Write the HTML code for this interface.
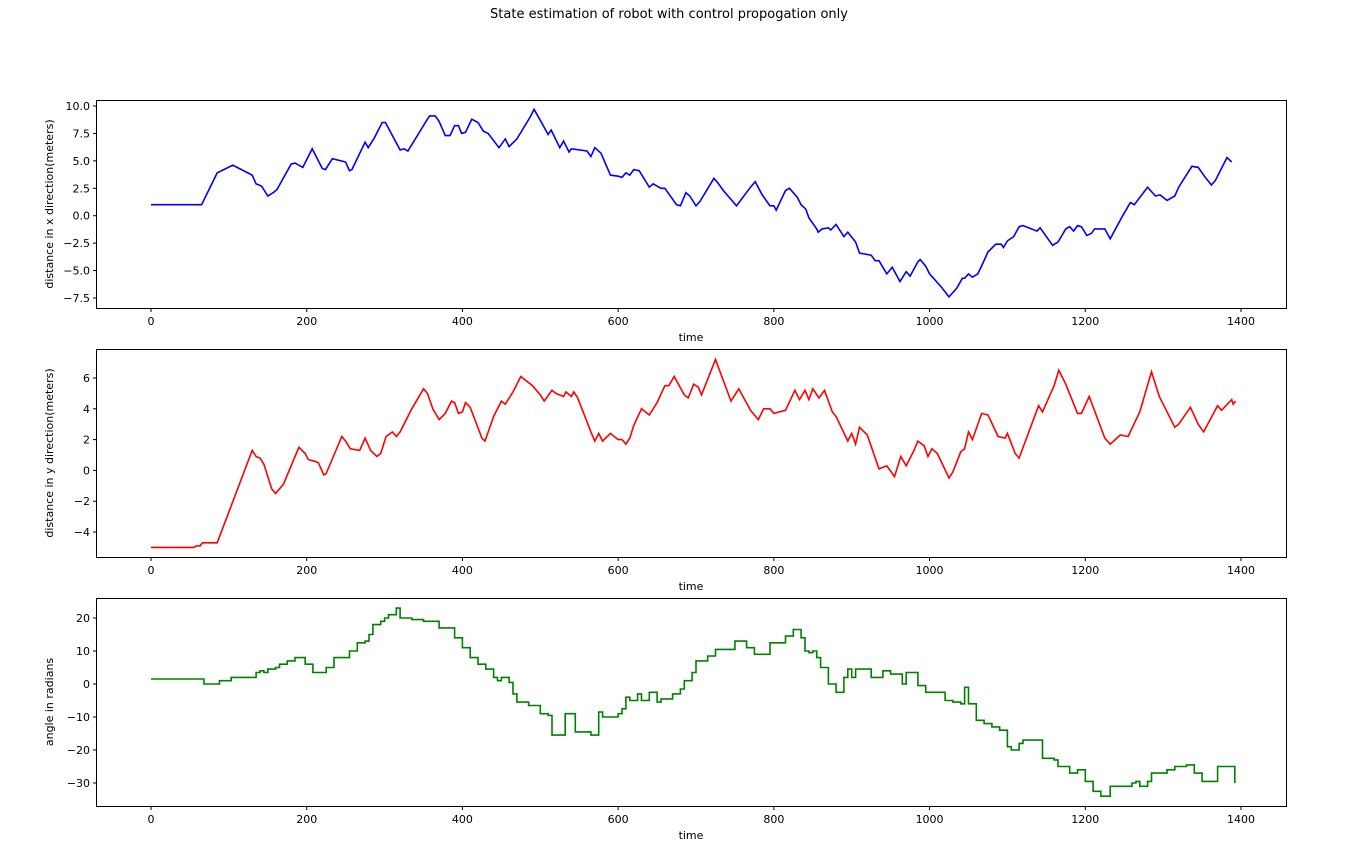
<!DOCTYPE html>
<html><head><meta charset="utf-8"><style>
body{margin:0;background:#fff;font-family:"Liberation Sans","DejaVu Sans",sans-serif}
svg text{font-family:"DejaVu Sans","Liberation Sans",sans-serif;font-size:11px;fill:#000}
</style></head><body>
<svg id="c" width="1353" height="862">
<text x="669" y="18" text-anchor="middle" style="font-size:13px">State estimation of robot with control propogation only</text>
</svg>
<script>
const xTicks=[0,200,400,600,800,1000,1200,1400];
const ticksX=[-7.5,-5.0,-2.5,0.0,2.5,5.0,7.5,10.0];
const ticksY=[-4,-2,0,2,4,6];
const ticksA=[-30,-20,-10,0,10,20];
const tX=[0,65,85,105,130,135,142,150,157,162,180,185,195,207,220,224,233,250,255,258,275,279,287,297,301,320,325,330,355,358,365,370,378,384,390,395,399,404,412,420,427,433,447,455,460,470,487,492,500,510,514,525,530,537,540,560,565,570,578,590,600,605,610,615,620,627,640,645,655,660,675,680,687,692,700,705,723,728,735,752,770,776,785,795,800,803,815,820,830,835,841,845,855,857,862,870,873,880,890,895,905,910,925,930,935,945,952,962,970,975,985,988,995,1000,1015,1025,1035,1042,1045,1050,1055,1062,1068,1075,1085,1092,1095,1100,1108,1115,1120,1138,1142,1158,1165,1175,1180,1185,1190,1195,1202,1208,1212,1225,1232,1248,1258,1263,1280,1290,1296,1305,1315,1320,1327,1337,1345,1353,1362,1367,1382,1388];
const vX=[1,1,3.9,4.6,3.7,2.9,2.7,1.8,2.1,2.4,4.7,4.8,4.4,6.1,4.3,4.2,5.2,4.9,4.1,4.2,6.7,6.2,7.1,8.5,8.5,6.0,6.1,5.9,8.8,9.1,9.1,8.6,7.3,7.3,8.2,8.2,7.5,7.6,8.8,8.5,7.7,7.5,6.2,7.0,6.3,7.0,9.0,9.7,8.7,7.4,7.8,6.2,6.8,5.8,6.1,5.9,5.4,6.2,5.7,3.7,3.6,3.5,3.9,3.7,4.2,4.1,2.6,2.9,2.5,2.5,1.0,0.9,2.1,1.8,0.9,1.3,3.4,3.0,2.3,0.9,2.6,3.1,1.9,0.9,0.9,0.5,2.3,2.5,1.7,1.0,0.6,-0.2,-1.2,-1.5,-1.2,-1.1,-1.3,-0.8,-1.9,-1.5,-2.4,-3.4,-3.6,-4.1,-4.1,-5.3,-4.7,-6.0,-5.1,-5.5,-4.2,-4.0,-4.6,-5.3,-6.5,-7.4,-6.6,-5.7,-5.7,-5.3,-5.6,-5.3,-4.4,-3.3,-2.6,-2.6,-2.9,-2.3,-1.9,-1.0,-0.9,-1.4,-1.1,-2.7,-2.4,-1.2,-1.0,-1.4,-0.9,-1.0,-1.8,-1.6,-1.2,-1.2,-2.1,0.0,1.2,1.0,2.6,1.8,1.9,1.4,1.8,2.6,3.4,4.5,4.4,3.6,2.8,3.2,5.3,4.9];
const tY=[0,55,58,63,66,85,130,135,140,145,155,160,170,190,198,202,210,215,222,225,245,250,256,268,275,282,290,295,302,310,315,320,335,350,355,362,370,378,386,390,395,400,404,410,425,429,440,450,455,465,475,490,500,505,515,520,530,533,540,543,548,565,570,575,580,590,600,605,610,615,620,630,640,650,660,665,672,685,690,697,703,707,725,745,755,770,780,787,795,800,815,827,833,840,845,850,858,865,875,880,895,900,905,910,920,935,945,955,963,970,980,985,993,998,1003,1010,1025,1030,1040,1045,1050,1055,1067,1075,1088,1097,1100,1110,1115,1140,1145,1160,1166,1175,1190,1195,1205,1225,1232,1245,1255,1270,1285,1295,1315,1320,1335,1345,1352,1370,1375,1388,1390,1393];
const vY=[-5,-5,-4.9,-4.9,-4.7,-4.7,1.3,0.9,0.8,0.4,-1.2,-1.5,-0.9,1.5,1.1,0.7,0.6,0.5,-0.3,-0.2,2.2,1.9,1.4,1.3,2.1,1.3,0.9,1.1,2.2,2.5,2.2,2.5,4.0,5.3,5.0,4.0,3.3,3.7,4.5,4.4,3.7,3.8,4.4,4.1,2.1,1.9,3.5,4.5,4.3,5.1,6.1,5.5,4.9,4.5,5.2,5.0,4.8,5.1,4.8,5.1,4.7,2.5,1.9,2.4,1.9,2.4,2.0,2.0,1.7,2.1,2.9,4.0,3.6,4.4,5.5,5.5,6.1,4.9,4.7,5.6,5.4,4.9,7.2,4.5,5.3,3.9,3.3,4.0,4.0,3.7,3.9,5.2,4.6,5.2,4.6,5.3,4.7,5.2,3.8,3.5,1.9,2.4,1.7,2.8,2.3,0.1,0.3,-0.4,0.9,0.3,1.3,1.9,1.6,0.9,1.4,1.1,-0.5,-0.1,1.2,1.4,2.5,2.0,3.7,3.6,2.2,2.1,2.4,1.1,0.8,4.2,3.8,5.5,6.5,5.6,3.7,3.7,4.8,2.1,1.7,2.3,2.2,3.8,6.4,4.8,2.8,3.0,4.1,3.0,2.5,4.2,3.9,4.6,4.3,4.5];
const tA=[0,65,68,85,88,100,103,130,135,140,145,150,160,165,175,185,195,198,205,208,218,225,235,250,255,265,275,280,285,295,300,305,315,320,330,335,350,370,390,400,410,420,430,440,445,450,460,465,470,480,485,495,500,510,515,525,532,538,545,560,565,575,580,600,605,610,615,625,630,640,650,655,670,680,685,695,700,715,725,745,750,760,765,775,790,795,810,815,825,835,840,845,850,855,860,865,870,880,890,895,900,905,920,925,935,940,950,960,965,970,980,985,995,1000,1010,1020,1030,1040,1045,1050,1060,1070,1080,1090,1100,1105,1115,1120,1140,1145,1160,1165,1180,1190,1200,1210,1220,1228,1232,1250,1260,1265,1270,1280,1285,1295,1305,1315,1330,1340,1350,1365,1370,1388,1392];
const vA=[1.5,1.5,0,0,1,1,2,2,3.5,4,3.5,4.5,5,6,7,8,8,6,6,3.5,3.5,5,8,8,10,12.5,13,15,18,19,20,21,23,20,20,19.5,19,17,14,11,8,6,4.5,2,1,2,0.5,-3,-5.5,-5.5,-6.5,-6.5,-9,-9.5,-15.5,-15.5,-9,-9,-14.5,-14.5,-15.5,-8.5,-10,-9,-7.5,-4,-5,-3,-5,-2.5,-5.5,-4.5,-3,-1.5,1,3.5,7,8.5,10.5,10.5,13,13,11,9,9,12.5,12.5,14.5,16.5,14,10,9.5,10,8,5,5,0,-2.5,2,4.5,2,4.5,4.5,2,2,4,3,3,0,3.5,3.5,-0.5,-2.5,-2.5,-2.5,-5,-5.5,-6,-1,-6,-11,-12,-13,-14,-19,-20,-18,-17,-17,-22.5,-23,-25,-27,-26,-29.5,-32.5,-34,-34,-31,-31,-30,-29.5,-31,-29.5,-27,-27,-26,-25,-24.5,-27,-29.5,-29.5,-25,-25,-30];
const svg=document.getElementById('c');const NS='http://www.w3.org/2000/svg';
function el(t,a,txt){const e=document.createElementNS(NS,t);for(const k in a)e.setAttribute(k,a[k]);if(txt!==undefined)e.textContent=txt;svg.appendChild(e);return e;}
const xs=t=>151+t*(1090/1400);
function panel(name,top,v0,p0,v1,p1,yt,fmt,ts,vs,color,ylabel,step){
 const ys=v=>p0+(v-v0)*(p1-p0)/(v1-v0);
 const bottom=top+208;
 let pts=[];
 ts.forEach((t,i)=>{
  if(step&&i>0)pts.push(xs(t).toFixed(1)+','+ys(vs[i-1]).toFixed(1));
  pts.push(xs(t).toFixed(1)+','+ys(vs[i]).toFixed(1));
 });
 let p=el('polyline',{points:pts.join(' '),fill:'none',stroke:color,'stroke-width':1.6});
 
 
 let r=el('rect',{x:96.5,y:top+0.5,width:1190,height:208,fill:'none',stroke:'#000','stroke-width':1});
 
 
 xTicks.forEach(t=>{el('line',{x1:xs(t),x2:xs(t),y1:bottom+0.5,y2:bottom+4,stroke:'#000'});
  let tx=el('text',{x:xs(t),y:bottom+17,'text-anchor':'middle'},String(t));
  
  });
 yt.forEach(v=>{const y=ys(v);el('line',{x1:93,x2:96.5,y1:y,y2:y,stroke:'#000'});
  let tx=el('text',{x:90,y:y+4,'text-anchor':'end'},fmt(v));
  
  });
 let xl=el('text',{x:691,y:bottom+33,'text-anchor':'middle'},'time');
 
 
 const cy=top+104;
 let yl=el('text',{x:0,y:0,'text-anchor':'middle',transform:`translate(53,${cy}) rotate(-90)`},ylabel);
 
 
}
const m=v=>String(v).replace('-','\u2212');
panel('x-panel',100,10,106,-7.5,298,ticksX,v=>m(v.toFixed(1)),tX,vX,'#0000ff','distance in x direction(meters)',false);
panel('y-panel',349,6,378,-4,532,ticksY,v=>m(v),tY,vY,'#ff0000','distance in y direction(meters)',false);
panel('angle-panel',598,20,618,-30,783,ticksA,v=>m(v),tA,vA,'#008000','angle in radians',true);
</script>
</body></html>
